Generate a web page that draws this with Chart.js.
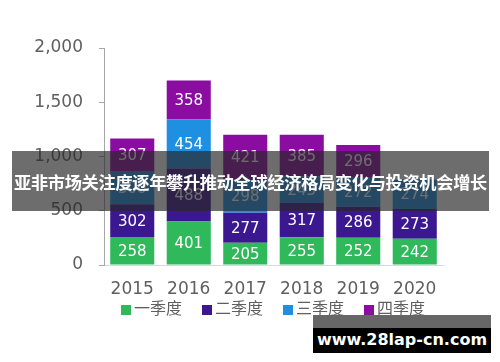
<!DOCTYPE html>
<html>
<head>
<meta charset="utf-8">
<script src="https://cdn.jsdelivr.net/npm/chart.js@4/dist/chart.umd.min.js"></script>
<style>
  html, body { margin: 0; padding: 0; background: #fff; }
  #wrap { position: relative; width: 500px; height: 362px; overflow: hidden; }
  #banner {
    position: absolute; left: 12px; top: 151px; width: 477px; height: 60px;
    background: rgba(40, 40, 40, 0.68); color: #fff;
    font-family: "Noto Sans CJK SC", sans-serif; font-weight: 700; font-size: 17.2px;
    line-height: 62px; text-align: center; white-space: nowrap; letter-spacing: -0.3px;
  }
  #markTop { position: absolute; left: 313px; top: 315px; width: 178px; height: 13px; background: #666; }
  #mark {
    position: absolute; left: 313px; top: 328px; width: 178px; height: 25px;
    background: #000; color: #fff; font-family: "DejaVu Sans", sans-serif; font-weight: 700;
    font-size: 16px; line-height: 23px; text-align: center; white-space: nowrap;
  }
</style>
</head>
<body>
<div id="wrap">
  <canvas id="chart" width="500" height="362"></canvas>
  <div id="banner">亚非市场关注度逐年攀升推动全球经济格局变化与投资机会增长</div>
  <div id="markTop"></div>
  <div id="mark">www.28lap-cn.com</div>
</div>
<script>
// values
const years = ['2015', '2016', '2017', '2018', '2019', '2020'];
const seriesNames = ['一季度', '二季度', '三季度', '四季度'];
const q1 = [258, 401, 205, 255, 252, 242];
const q2 = [302, 488, 277, 317, 286, 273];
const q3 = [300, 454, 298, 243, 272, 274];
const q4 = [307, 358, 421, 385, 296, null];
const yTicks = [0, 500, 1000, 1500, 2000];

const colors = ['#2fb95b', '#3b1790', '#1f8fe2', '#8a0ca0'];
const textGray = '#5f5f5f';
const fontFam = '"DejaVu Sans", "Noto Sans CJK SC", sans-serif';

// value labels in the middle of each segment
const valueLabels = {
  id: 'valueLabels',
  afterDatasetsDraw(chart) {
    const ctx = chart.ctx;
    ctx.save();
    ctx.font = '15px ' + fontFam;
    ctx.fillStyle = '#ffffff';
    ctx.textAlign = 'center';
    ctx.textBaseline = 'middle';
    chart.data.datasets.forEach((ds, i) => {
      const meta = chart.getDatasetMeta(i);
      meta.data.forEach((bar, j) => {
        const v = ds.data[j];
        if (v == null) return;
        ctx.fillText(String(v), bar.x, (bar.y + bar.base) / 2 + 1);
      });
    });
    ctx.restore();
  }
};

// legend drawn by hand so it can sit where the original has it
const bottomLegend = {
  id: 'bottomLegend',
  afterDraw(chart) {
    const ctx = chart.ctx;
    ctx.save();
    ctx.font = '16px ' + fontFam;
    ctx.textBaseline = 'middle';
    let x = 121;
    const y = 310;
    chart.data.datasets.forEach(ds => {
      ctx.fillStyle = ds.backgroundColor;
      ctx.fillRect(x, y - 5, 10, 10);
      ctx.fillStyle = textGray;
      ctx.fillText(ds.label, x + 13, y);
      x += 13 + ctx.measureText(ds.label).width + 20;
    });
    ctx.restore();
  }
};

new Chart(document.getElementById('chart'), {
  type: 'bar',
  data: {
    labels: years,
    datasets: [
      { label: seriesNames[0], data: q1, backgroundColor: colors[0] },
      { label: seriesNames[1], data: q2, backgroundColor: colors[1] },
      { label: seriesNames[2], data: q3, backgroundColor: colors[2] },
      { label: seriesNames[3], data: q4, backgroundColor: colors[3] },
    ],
  },
  options: {
    responsive: false,
    animation: false,
    layout: { padding: { top: 48, right: 57, bottom: 66, left: 0 } },
    datasets: { bar: { barPercentage: 0.78, categoryPercentage: 1 } },
    plugins: {
      legend: { display: false },
      tooltip: { enabled: false },
    },
    scales: {
      x: {
        stacked: true,
        grid: { display: false },
        border: { display: true, color: '#d9d9d9', width: 1 },
        ticks: { color: textGray, font: { size: 17, family: fontFam }, padding: 6 },
        afterFit(scale) { scale.height = 31; },
      },
      y: {
        stacked: true,
        min: 0,
        max: 2000,
        afterBuildTicks(scale) { scale.ticks = yTicks.map(v => ({ value: v })); },
        grid: { drawOnChartArea: false, drawTicks: true, tickLength: 5, color: '#a6a6a6' },
        border: { display: true, color: '#a6a6a6', width: 1 },
        ticks: {
          color: textGray,
          font: { size: 17, family: fontFam },
          padding: 16,
          callback: v => v.toLocaleString('en-US'),
        },
        afterFit(scale) { scale.width = 104; },
      },
    },
  },
  plugins: [valueLabels, bottomLegend],
});
</script>
</body>
</html>
